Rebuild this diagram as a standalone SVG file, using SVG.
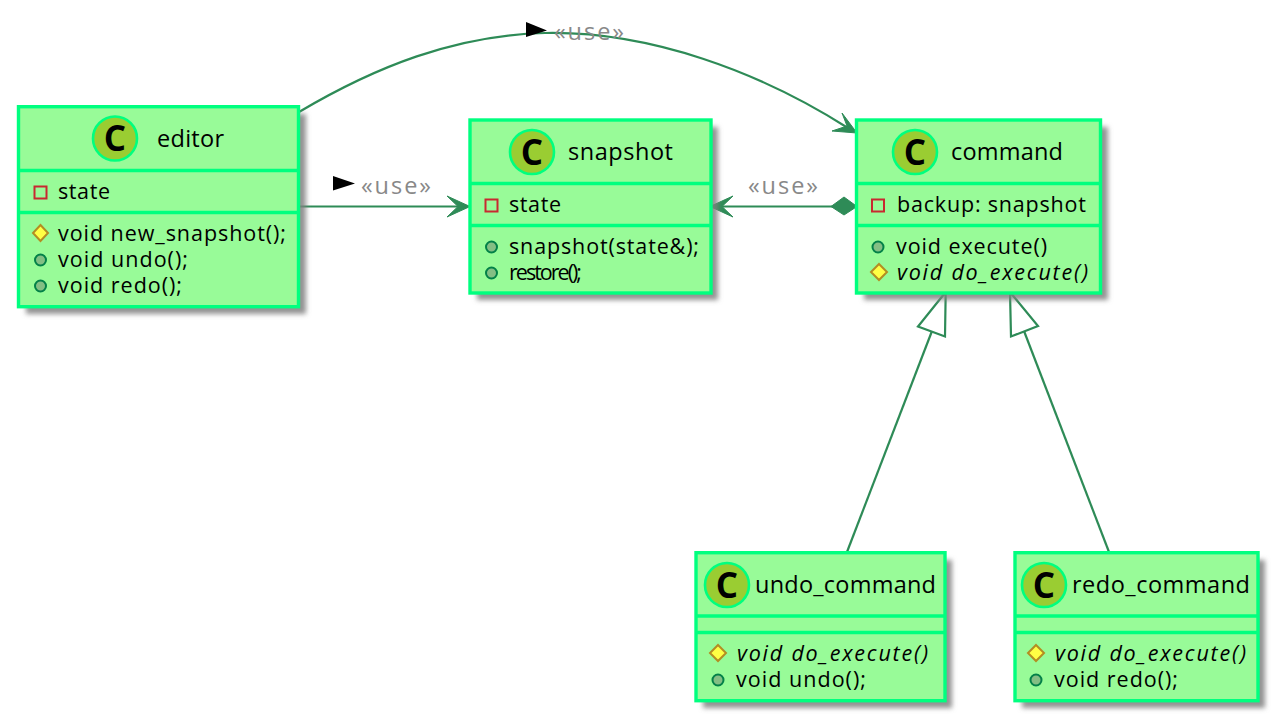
<svg xmlns="http://www.w3.org/2000/svg" width="1284" height="726" viewBox="0 0 1284 726">
<style>
.box{fill:#98FB98;stroke:#00FF7F;stroke-width:3.4}
.shadow{fill:#808080;fill-opacity:.85;filter:url(#blur)}
.div{stroke:#00FF7F;stroke-width:3.4;fill:none}
.badge{fill:#9ACD32;stroke:#00FF7F;stroke-width:2.6}
.cg{font-family:"Open Sans",sans-serif;font-size:35px;font-weight:700;fill:#000;text-anchor:middle}
.t{font-family:"Open Sans",sans-serif;font-size:23.5px;fill:#000}
.m{font-family:"Open Sans",sans-serif;font-size:21.5px;fill:#000}
.i{font-style:italic}
.use{font-family:"Open Sans",sans-serif;font-size:23.5px;fill:#888}
.priv{fill:none;stroke:#C82930;stroke-width:2}
.prot{fill:#FFFF44;stroke:#B38D22;stroke-width:2}
.pub{fill:#84BE84;stroke:#038048;stroke-width:2}
.line{fill:none;stroke:#2E8B57;stroke-width:2.2}
.head{fill:#2E8B57;stroke:#2E8B57;stroke-width:1;stroke-linejoin:miter}
.tri{fill:#fff;stroke:#2E8B57;stroke-width:2.2}
</style>
<defs><filter id="blur" x="-10%" y="-10%" width="120%" height="120%"><feGaussianBlur stdDeviation="2.4"/></filter></defs>

<g id="connectors">
<path class="line" d="M299 112C375 67 455 35 545 33C650 31 760 72 848 128"/>
<path class="head" d="M857 133L832 131L847 126L842 113Z"/>
<path class="line" d="M299 206.500H460"/>
<path class="head" d="M470 206.500L447 196L458 206.500L447 217Z"/>
<path class="line" d="M720 206.500H832"/>
<path class="head" d="M710 206.500L733 196L722 206.500L733 217Z"/>
<path class="head" d="M857 206.500L844 197L831 206.500L844 215Z"/>
<path class="line" d="M847 552L932 331"/>
<path class="tri" d="M945.700 292L945 336.500L918 326.500Z"/>
<path class="line" d="M1109 552L1024 331"/>
<path class="tri" d="M1010 292L1011 336.500L1038 326Z"/>
<path d="M526 22L547 30.500L526 37Z" fill="#000"/>
<text class="use" x="554" y="39.500" textLength="70" lengthAdjust="spacing">«use»</text>
<path d="M333 176L355 183.500L333 190.500Z" fill="#000"/>
<text class="use" x="361" y="193.500" textLength="70" lengthAdjust="spacing">«use»</text>
<text class="use" x="748" y="193.500" textLength="70" lengthAdjust="spacing">«use»</text>
</g>

<g id="editor">
<rect class="shadow" x="26" y="114" width="280" height="200"/>
<rect class="box" x="18.500" y="106.700" width="280" height="200"/>
<path class="div" d="M18.500 170.500H298.500M18.500 212.500H298.500"/>
<circle class="badge" cx="115" cy="138.500" r="22"/>
<text class="cg" x="115" y="151">C</text>
<text class="t" x="157" y="147" textLength="67" lengthAdjust="spacing">editor</text>
<rect class="priv" x="34.500" y="186.500" width="12" height="12"/>
<text class="m" x="58" y="199" textLength="52" lengthAdjust="spacing">state</text>
<path class="prot" d="M40.500 225L48 233L40.500 241L33 233Z"/>
<text class="m" x="58" y="241" textLength="228" lengthAdjust="spacing">void new_snapshot();</text>
<circle class="pub" cx="40.500" cy="260" r="5.500"/>
<text class="m" x="58" y="267" textLength="130" lengthAdjust="spacing">void undo();</text>
<circle class="pub" cx="40.500" cy="286" r="5.500"/>
<text class="m" x="58" y="293" textLength="124" lengthAdjust="spacing">void redo();</text>
</g>

<g id="snapshot">
<rect class="shadow" x="477" y="127" width="241" height="173"/>
<rect class="box" x="470" y="120" width="241" height="173"/>
<path class="div" d="M470 183.500H711M470 225.500H711"/>
<circle class="badge" cx="532" cy="152" r="22"/>
<text class="cg" x="532" y="164.500">C</text>
<text class="t" x="568" y="160" textLength="105" lengthAdjust="spacing">snapshot</text>
<rect class="priv" x="485.500" y="199.500" width="12" height="12"/>
<text class="m" x="509" y="212" textLength="52" lengthAdjust="spacing">state</text>
<circle class="pub" cx="491.500" cy="247" r="5.500"/>
<text class="m" x="509" y="254" textLength="190" lengthAdjust="spacing">snapshot(state&amp;);</text>
<circle class="pub" cx="491.500" cy="273" r="5.500"/>
<text class="m" x="509" y="280" textLength="73" lengthAdjust="spacing">restore();</text>
</g>

<g id="command">
<rect class="shadow" x="864" y="127" width="244" height="173"/>
<rect class="box" x="856.500" y="120" width="244" height="173"/>
<path class="div" d="M856.500 183.500H1100.500M856.500 225.500H1100.500"/>
<circle class="badge" cx="915" cy="152" r="22"/>
<text class="cg" x="915" y="164.500">C</text>
<text class="t" x="951" y="160" textLength="112" lengthAdjust="spacing">command</text>
<rect class="priv" x="872" y="199.500" width="12" height="12"/>
<text class="m" x="897" y="212" textLength="189" lengthAdjust="spacing">backup: snapshot</text>
<circle class="pub" cx="878" cy="247" r="5.500"/>
<text class="m" x="896" y="254" textLength="151" lengthAdjust="spacing">void execute()</text>
<path class="prot" d="M879 264L887 272L879 280L871 272Z"/>
<text class="m i" x="897" y="280" textLength="191" lengthAdjust="spacing">void do_execute()</text>
</g>

<g id="undo_command">
<rect class="shadow" x="703" y="560" width="249" height="148"/>
<rect class="box" x="696" y="552.700" width="249" height="148"/>
<path class="div" d="M696 616H945M696 632.500H945"/>
<circle class="badge" cx="727" cy="585" r="22"/>
<text class="cg" x="727" y="597.500">C</text>
<text class="t" x="755" y="593" textLength="181" lengthAdjust="spacing">undo_command</text>
<path class="prot" d="M718 645L726 653L718 661L710 653Z"/>
<text class="m i" x="737" y="661" textLength="191" lengthAdjust="spacing">void do_execute()</text>
<circle class="pub" cx="718" cy="680" r="5.500"/>
<text class="m" x="736" y="687" textLength="130" lengthAdjust="spacing">void undo();</text>
</g>

<g id="redo_command">
<rect class="shadow" x="1022" y="560" width="243" height="148"/>
<rect class="box" x="1015" y="552.700" width="243" height="148"/>
<path class="div" d="M1015 616H1258M1015 632.500H1258"/>
<circle class="badge" cx="1044" cy="585" r="22"/>
<text class="cg" x="1044" y="597.500">C</text>
<text class="t" x="1072" y="593" textLength="178" lengthAdjust="spacing">redo_command</text>
<path class="prot" d="M1036 645L1044 653L1036 661L1028 653Z"/>
<text class="m i" x="1055" y="661" textLength="191" lengthAdjust="spacing">void do_execute()</text>
<circle class="pub" cx="1036" cy="680" r="5.500"/>
<text class="m" x="1054" y="687" textLength="124" lengthAdjust="spacing">void redo();</text>
</g>
</svg>
